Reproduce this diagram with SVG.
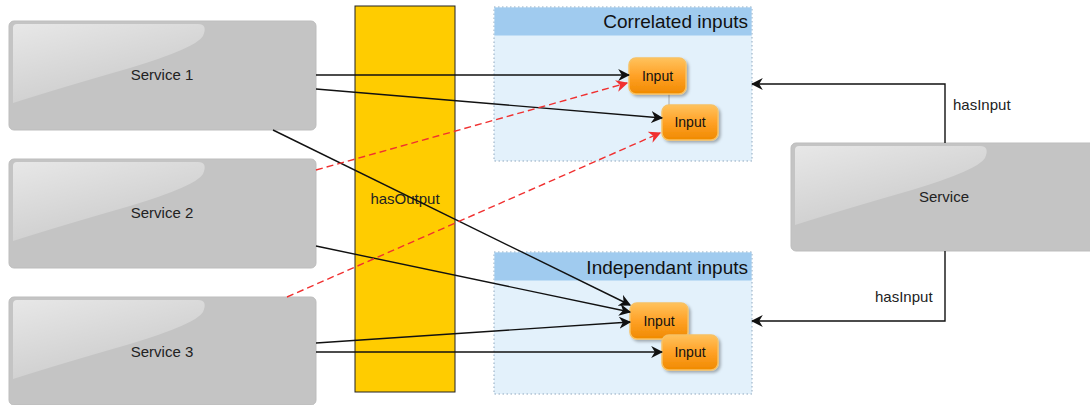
<svg xmlns="http://www.w3.org/2000/svg" width="1090" height="405" viewBox="0 0 1090 405">
<defs>
<style>
.svc{fill:#C4C4C4;stroke:#BDBDBD;stroke-width:1}
.gloss{fill:url(#glossG)}
.lbl{font-family:"Liberation Sans",Arial,sans-serif;font-size:15px;fill:#222}
.grp{fill:#E3F1FB;stroke:#8FA8BF;stroke-width:1;stroke-dasharray:1.5 2.5}
.hdr{fill:#A0CBEF}
.ttl{font-family:"Liberation Sans",Arial,sans-serif;font-size:19px;fill:#111;text-anchor:end}
.inp{fill:url(#orangeG);stroke:#F7C163;stroke-width:1.5}
.itx{font-family:"Liberation Sans",Arial,sans-serif;font-size:14px;fill:#111;text-anchor:middle}
.e{fill:none;stroke:#111;stroke-width:1.4;marker-end:url(#ab)}
.r{fill:none;stroke:#F03030;stroke-width:1.4;stroke-dasharray:7 4;marker-end:url(#ar)}
</style>
<linearGradient id="glossG" x1="0" y1="0" x2="0.6" y2="1">
<stop offset="0" stop-color="#FFFFFF" stop-opacity="0.6"/>
<stop offset="1" stop-color="#FFFFFF" stop-opacity="0.1"/>
</linearGradient>
<linearGradient id="orangeG" x1="0" y1="0" x2="0" y2="1">
<stop offset="0" stop-color="#FFC25C"/>
<stop offset="0.5" stop-color="#FFA126"/>
<stop offset="1" stop-color="#F08A00"/>
</linearGradient>
<filter id="sh" x="-20%" y="-20%" width="150%" height="150%">
<feDropShadow dx="2" dy="2" stdDeviation="1.5" flood-color="#000" flood-opacity="0.3"/>
</filter>
<marker id="ab" viewBox="0 0 10 10" refX="9" refY="5" markerWidth="12" markerHeight="12" markerUnits="userSpaceOnUse" orient="auto">
<path d="M0,0 L10,5 L0,10 L3,5 z" fill="#111"/>
</marker>
<marker id="ar" viewBox="0 0 10 10" refX="9" refY="5" markerWidth="12" markerHeight="12" markerUnits="userSpaceOnUse" orient="auto">
<path d="M0,0 L10,5 L0,10 L3,5 z" fill="#F03030"/>
</marker>
</defs>

<g id="hasOutput">
<rect x="355" y="6" width="100" height="386" fill="#FFCC00" stroke="#222" stroke-width="1"/>
<text class="lbl" x="405" y="204" text-anchor="middle">hasOutput</text>
</g>

<g id="service1">
<rect class="svc" x="9" y="21" width="307" height="109" rx="5"/>
<path class="gloss" d="M13,28 Q13,24 17,24 L198,24 Q208,24 203,36 Q196,48 130,68 Q60,88 13,103 Z"/>
<text class="lbl" x="162" y="80" text-anchor="middle">Service 1</text>
</g>
<g id="service2">
<rect class="svc" x="9" y="159" width="307" height="109" rx="5"/>
<path class="gloss" d="M13,166 Q13,162 17,162 L198,162 Q208,162 203,174 Q196,186 130,206 Q60,226 13,241 Z"/>
<text class="lbl" x="162" y="218" text-anchor="middle">Service 2</text>
</g>
<g id="service3">
<rect class="svc" x="9" y="297" width="307" height="108" rx="5"/>
<path class="gloss" d="M13,304 Q13,300 17,300 L198,300 Q208,300 203,312 Q196,324 130,344 Q60,364 13,379 Z"/>
<text class="lbl" x="162" y="357" text-anchor="middle">Service 3</text>
</g>
<g id="service">
<rect class="svc" x="791" y="143" width="305" height="108" rx="5"/>
<path class="gloss" d="M795,150 Q795,146 799,146 L980,146 Q990,146 985,158 Q978,170 912,190 Q842,210 795,225 Z"/>
<text class="lbl" x="944" y="202" text-anchor="middle">Service</text>
</g>

<g id="correlated">
<rect class="grp" x="494" y="7" width="258" height="154"/>
<rect class="hdr" x="494.5" y="7.5" width="257" height="28"/>
<text class="ttl" x="748" y="28">Correlated inputs</text>
<line x1="669" y1="93" x2="669" y2="105" stroke="#999" stroke-width="0.8"/>
<g id="corrInput1">
<rect class="inp" x="629" y="58" width="57" height="36" rx="7" filter="url(#sh)"/>
<text class="itx" x="657.5" y="81">Input</text>
</g>
<g id="corrInput2">
<rect class="inp" x="662" y="105" width="56" height="35" rx="7" filter="url(#sh)"/>
<text class="itx" x="690" y="127">Input</text>
</g>
</g>

<g id="independant">
<rect class="grp" x="494" y="252" width="258" height="142"/>
<rect class="hdr" x="494.5" y="252.5" width="257" height="28"/>
<text class="ttl" x="748" y="274">Independant inputs</text>
<g id="indInput1">
<rect class="inp" x="630" y="303" width="58" height="36" rx="7" filter="url(#sh)"/>
<text class="itx" x="659" y="326">Input</text>
</g>
<g id="indInput2">
<rect class="inp" x="662" y="335" width="56" height="35" rx="7" filter="url(#sh)"/>
<text class="itx" x="690" y="357">Input</text>
</g>
</g>

<g id="connectors">
<path class="e" d="M316,75 L629,75"/>
<path class="e" d="M316,89 L662,118"/>
<path class="e" d="M273,130 L630,305"/>
<path class="r" d="M316,170 L627,83"/>
<path class="e" d="M316,246 L630,312"/>
<path class="r" d="M287,297 L660,133"/>
<path class="e" d="M316,343 L630,322"/>
<path class="e" d="M316,352 L662,352"/>
<path class="e" d="M945,143 L945,84 L752,84"/>
<path class="e" d="M945,251 L945,321 L752,321"/>
<text class="lbl" x="953" y="110">hasInput</text>
<text class="lbl" x="875" y="302">hasInput</text>
</g>
</svg>
